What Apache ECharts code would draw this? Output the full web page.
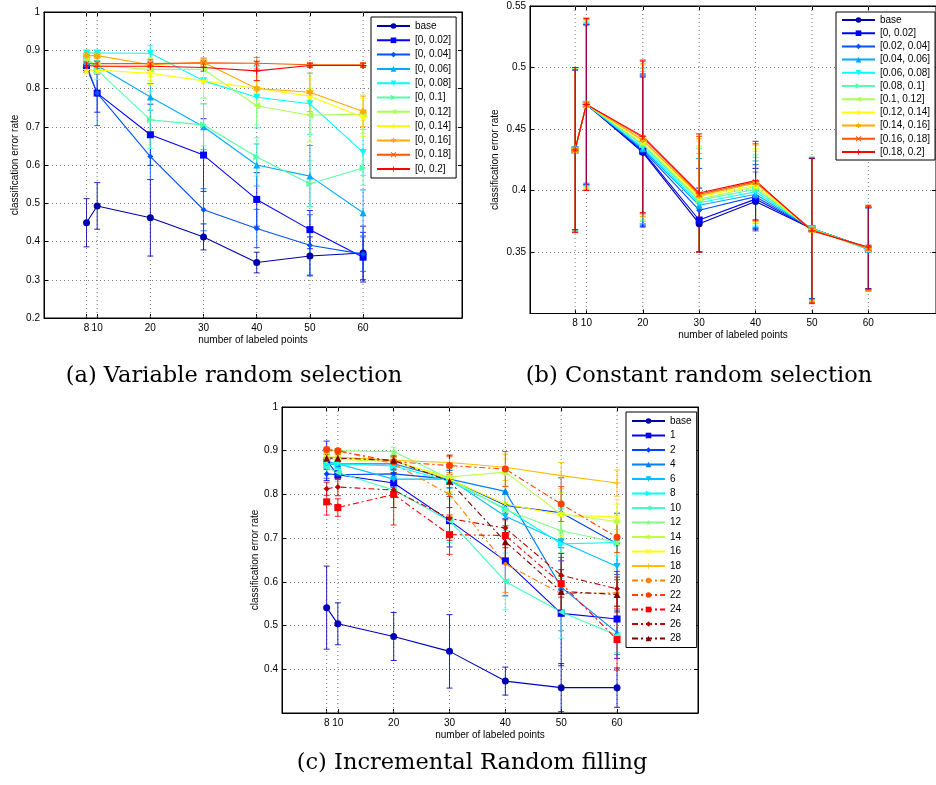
<!DOCTYPE html>
<html>
<head>
<meta charset="utf-8">
<script src="https://cdn.jsdelivr.net/npm/echarts@6/dist/echarts.min.js"></script>
<style>
  html, body { margin: 0; padding: 0; background: #fff; }
  #chart { width: 936px; height: 785px; }
</style>
</head>
<body>
<div id="chart"></div>
<script>
// Number of labeled points (shared x positions and tick labels)
const xPoints = [8, 10, 20, 30, 40, 50, 60];
const xTickValues = [8, 10, 20, 30, 40, 50, 60];

// (a) Variable random selection
const namesA = ['base', '[0, 0.02]', '[0, 0.04]', '[0, 0.06]', '[0, 0.08]', '[0, 0.1]',
  '[0, 0.12]', '[0, 0.14]', '[0, 0.16]', '[0, 0.18]', '[0, 0.2]'];
const meanA = [
  [0.449, 0.493, 0.462, 0.412, 0.345, 0.362, 0.370],
  [0.855, 0.788, 0.679, 0.626, 0.510, 0.431, 0.359],
  [0.860, 0.788, 0.622, 0.483, 0.434, 0.390, 0.367],
  [0.870, 0.860, 0.778, 0.700, 0.600, 0.571, 0.475],
  [0.893, 0.893, 0.892, 0.820, 0.777, 0.760, 0.633],
  [0.880, 0.848, 0.718, 0.705, 0.621, 0.551, 0.592],
  [0.875, 0.860, 0.850, 0.850, 0.755, 0.730, 0.733],
  [0.848, 0.848, 0.840, 0.820, 0.800, 0.780, 0.725],
  [0.886, 0.886, 0.862, 0.868, 0.800, 0.790, 0.740],
  [0.865, 0.865, 0.865, 0.867, 0.866, 0.862, 0.862],
  [0.860, 0.858, 0.858, 0.855, 0.846, 0.860, 0.860]
];
const errA = [
  [0.063, 0.061, 0.100, 0.034, 0.027, 0.050, 0.070],
  [0.012, 0.050, 0.080, 0.095, 0.070, 0.050, 0.065],
  [0.010, 0.085, 0.060, 0.055, 0.050, 0.080, 0.045],
  [0.010, 0.020, 0.035, 0.060, 0.055, 0.080, 0.060],
  [0.005, 0.005, 0.020, 0.045, 0.080, 0.080, 0.060],
  [0.010, 0.025, 0.075, 0.055, 0.050, 0.060, 0.045],
  [0.010, 0.010, 0.030, 0.030, 0.050, 0.070, 0.050],
  [0.008, 0.008, 0.030, 0.045, 0.030, 0.045, 0.050],
  [0.008, 0.008, 0.015, 0.012, 0.020, 0.050, 0.040],
  [0.005, 0.005, 0.010, 0.010, 0.015, 0.005, 0.005],
  [0.005, 0.005, 0.010, 0.010, 0.025, 0.005, 0.005]
];

// (b) Constant random selection
const namesB = ['base', '[0, 0.02]', '[0.02, 0.04]', '[0.04, 0.06]', '[0.06, 0.08]', '[0.08, 0.1]',
  '[0.1, 0.12]', '[0.12, 0.14]', '[0.14, 0.16]', '[0.16, 0.18]', '[0.18, 0.2]'];
const meanB = [
  [0.433, 0.470, 0.431, 0.373, 0.391, 0.369, 0.353],
  [0.433, 0.470, 0.432, 0.376, 0.393, 0.369, 0.353],
  [0.433, 0.470, 0.433, 0.384, 0.395, 0.369, 0.353],
  [0.433, 0.470, 0.434, 0.388, 0.397, 0.369, 0.352],
  [0.433, 0.470, 0.435, 0.390, 0.399, 0.369, 0.352],
  [0.433, 0.470, 0.437, 0.392, 0.401, 0.369, 0.353],
  [0.433, 0.470, 0.438, 0.393, 0.403, 0.368, 0.353],
  [0.433, 0.470, 0.440, 0.395, 0.404, 0.368, 0.353],
  [0.433, 0.470, 0.441, 0.396, 0.406, 0.368, 0.353],
  [0.433, 0.470, 0.443, 0.397, 0.407, 0.368, 0.353],
  [0.433, 0.470, 0.444, 0.398, 0.408, 0.367, 0.354]
];
const errB = [
  [0.065, 0.064, 0.061, 0.023, 0.024, 0.057, 0.033],
  [0.065, 0.065, 0.061, 0.026, 0.025, 0.057, 0.033],
  [0.066, 0.065, 0.061, 0.034, 0.026, 0.057, 0.033],
  [0.066, 0.066, 0.061, 0.038, 0.027, 0.057, 0.034],
  [0.066, 0.066, 0.062, 0.040, 0.028, 0.058, 0.034],
  [0.066, 0.067, 0.062, 0.042, 0.028, 0.058, 0.034],
  [0.066, 0.068, 0.062, 0.043, 0.029, 0.058, 0.034],
  [0.067, 0.069, 0.062, 0.045, 0.030, 0.058, 0.034],
  [0.067, 0.069, 0.062, 0.046, 0.031, 0.058, 0.034],
  [0.067, 0.070, 0.062, 0.047, 0.031, 0.059, 0.034],
  [0.067, 0.070, 0.062, 0.048, 0.032, 0.059, 0.034]
];

// (c) Incremental random filling
const namesC = ['base', '1', '2', '4', '6', '8', '10', '12', '14', '16', '18', '20', '22', '24', '26', '28'];
const meanC = [
  [0.541, 0.504, 0.475, 0.441, 0.373, 0.358, 0.358],
  [0.877, 0.845, 0.826, 0.740, 0.648, 0.528, 0.515],
  [0.847, 0.845, 0.847, 0.835, 0.775, 0.758, 0.687],
  [0.868, 0.870, 0.870, 0.835, 0.807, 0.588, 0.484],
  [0.875, 0.870, 0.835, 0.835, 0.750, 0.692, 0.635],
  [0.870, 0.870, 0.865, 0.830, 0.768, 0.687, 0.690],
  [0.862, 0.850, 0.810, 0.740, 0.601, 0.531, 0.478],
  [0.900, 0.900, 0.898, 0.836, 0.765, 0.717, 0.690],
  [0.880, 0.880, 0.875, 0.840, 0.851, 0.755, 0.738],
  [0.885, 0.885, 0.878, 0.835, 0.778, 0.753, 0.748],
  [0.885, 0.885, 0.878, 0.873, 0.862, 0.843, 0.826],
  [0.900, 0.900, 0.870, 0.800, 0.641, 0.573, 0.575],
  [0.903, 0.900, 0.875, 0.866, 0.858, 0.778, 0.702],
  [0.783, 0.770, 0.800, 0.708, 0.706, 0.596, 0.468],
  [0.813, 0.817, 0.810, 0.745, 0.723, 0.615, 0.584],
  [0.883, 0.883, 0.878, 0.830, 0.692, 0.578, 0.571]
];
const errC = [
  [0.095, 0.048, 0.055, 0.084, 0.032, 0.055, 0.045],
  [0.045, 0.010, 0.010, 0.060, 0.080, 0.120, 0.090],
  [0.010, 0.010, 0.010, 0.020, 0.030, 0.080, 0.070],
  [0.010, 0.010, 0.010, 0.020, 0.040, 0.100, 0.050],
  [0.010, 0.010, 0.020, 0.030, 0.050, 0.080, 0.060],
  [0.010, 0.010, 0.020, 0.030, 0.050, 0.080, 0.050],
  [0.015, 0.020, 0.040, 0.050, 0.065, 0.060, 0.040],
  [0.005, 0.005, 0.010, 0.030, 0.040, 0.050, 0.030],
  [0.008, 0.008, 0.010, 0.030, 0.030, 0.050, 0.040],
  [0.008, 0.008, 0.010, 0.030, 0.040, 0.050, 0.040],
  [0.008, 0.008, 0.010, 0.015, 0.030, 0.030, 0.030],
  [0.005, 0.005, 0.020, 0.050, 0.065, 0.040, 0.030],
  [0.005, 0.005, 0.010, 0.020, 0.040, 0.040, 0.035],
  [0.030, 0.020, 0.070, 0.045, 0.060, 0.060, 0.070],
  [0.015, 0.020, 0.040, 0.050, 0.045, 0.050, 0.040],
  [0.008, 0.008, 0.010, 0.060, 0.050, 0.050, 0.040]
];

// Jet colour ramps
const jet11 = ['#0000AA', '#0000FF', '#0055FF', '#00AAFF', '#00FFFF', '#55FFAA',
  '#AAFF55', '#FFFF00', '#FFAA00', '#FF5500', '#FF0000'];
const jet16 = ['#0000BF', '#0000FF', '#0040FF', '#0080FF', '#00BFFF', '#00FFFF', '#40FFBF', '#80FF80',
  '#BFFF40', '#FFFF00', '#FFBF00', '#FF8000', '#FF4000', '#FF0000', '#BF0000', '#800000'];

const markers11 = ['circle', 'square', 'diamond', 'tri-up', 'tri-down', 'tri-right', 'tri-left',
  'star', 'hexagram', 'cross', 'plus'];
const markers16 = ['circle', 'square', 'diamond', 'tri-up', 'tri-down', 'tri-right', 'tri-left',
  'star', 'hexagram', 'cross', 'plus', 'point', 'circle', 'square', 'diamond', 'tri-up'];

const FONT = 'Liberation Sans, Arial, sans-serif';
const CAPTION_FONT = '22.5px "DejaVu Serif", serif';

const SYMBOLS = {
  'circle':    { symbol: 'circle', rotate: 0, size: 7 },
  'square':    { symbol: 'rect', rotate: 0, size: 7 },
  'diamond':   { symbol: 'diamond', rotate: 0, size: 6 },
  'tri-up':    { symbol: 'triangle', rotate: 0, size: 7 },
  'tri-down':  { symbol: 'triangle', rotate: 180, size: 7 },
  'tri-right': { symbol: 'triangle', rotate: -90, size: 7 },
  'tri-left':  { symbol: 'triangle', rotate: 90, size: 7 },
  'star':      { symbol: 'path://M50,0L61.2,34.5L97.6,34.5L68.2,55.9L79.4,90.5L50,69.1L20.6,90.5L31.8,55.9L2.4,34.5L38.8,34.5Z', rotate: 0, size: 9 },
  'hexagram':  { symbol: 'path://M50,0L64.4,25L93.3,25L78.9,50L93.3,75L64.4,75L50,100L35.6,75L6.7,75L21.1,50L6.7,25L35.6,25Z', rotate: 0, size: 8 },
  'cross':     { symbol: 'path://M12,0L50,38L88,0L100,12L62,50L100,88L88,100L50,62L12,100L0,88L38,50L0,12Z', rotate: 0, size: 6 },
  'plus':      { symbol: 'path://M43,0H57V43H100V57H57V100H43V57H0V43H43Z', rotate: 0, size: 7 },
  'point':     { symbol: 'circle', rotate: 0, size: 4 }
};

// Panel frames: grid geometry and axis ranges
const panels = [
  { left: 44, top: 12, width: 418, height: 306, xMax: 78.6, yMin: 0.2, yMax: 1, yStep: 0.1, showMinY: true, nameGap: 24 },
  { left: 530, top: 6, width: 412, height: 307.5, xMax: 72, yMin: 0.3, yMax: 0.55, yStep: 0.05, showMinY: false, nameGap: 30 },
  { left: 282, top: 407, width: 416, height: 306, xMax: 74.5, yMin: 0.3, yMax: 1, yStep: 0.1, showMinY: false, nameGap: 20 }
];

const grids = [], xAxes = [], yAxes = [], series = [];

panels.forEach((p, i) => {
  grids.push({ left: p.left, top: p.top, width: p.width, height: p.height,
    show: true, borderColor: '#000', borderWidth: 1, backgroundColor: 'transparent' });
  const tick = { show: true, inside: true, length: 4, customValues: xTickValues, lineStyle: { color: '#000', width: 1 } };
  const line = { show: true, onZero: false, lineStyle: { color: '#000', width: 1 } };
  xAxes.push({
    type: 'value', gridIndex: i, position: 'bottom', min: 0, max: p.xMax,
    axisLine: line, axisTick: tick,
    axisLabel: { show: true, customValues: xTickValues, color: '#000', fontSize: 10, fontFamily: FONT, margin: 5 },
    splitLine: { show: false },
    name: 'number of labeled points', nameLocation: 'middle', nameGap: 17,
    nameTextStyle: { color: '#000', fontSize: 10, fontFamily: FONT, verticalAlign: 'top' }
  });
  xAxes.push({
    type: 'value', gridIndex: i, position: 'top', min: 0, max: p.xMax,
    axisLine: line, axisTick: tick, axisLabel: { show: false }, splitLine: { show: false }
  });
  const yTick = { show: true, inside: true, length: 4, lineStyle: { color: '#000', width: 1 } };
  yAxes.push({
    type: 'value', gridIndex: i, position: 'left', min: p.yMin, max: p.yMax, interval: p.yStep,
    axisLine: line, axisTick: yTick,
    axisLabel: { color: '#000', fontSize: 10, fontFamily: FONT, margin: 4, showMinLabel: p.showMinY, showMaxLabel: true },
    splitLine: { show: true, lineStyle: { color: '#777', width: 1, type: [1, 3] } },
    name: 'classification error rate', nameLocation: 'middle', nameGap: p.nameGap, nameRotate: 90,
    nameTextStyle: { color: '#000', fontSize: 10, fontFamily: FONT }
  });
  yAxes.push({
    type: 'value', gridIndex: i, position: 'right', min: p.yMin, max: p.yMax, interval: p.yStep,
    axisLine: line, axisTick: yTick, axisLabel: { show: false }, splitLine: { show: false }
  });
  // dotted vertical grid lines at the x ticks
  series.push({
    type: 'custom', xAxisIndex: 2 * i, yAxisIndex: 2 * i, silent: true, z: 1,
    data: xTickValues.map(v => [v, p.yMin]),
    encode: { x: 0, y: 1 },
    renderItem: (params, api) => {
      const x = api.coord([api.value(0), p.yMin])[0];
      const cs = params.coordSys;
      return { type: 'line', shape: { x1: x, y1: cs.y, x2: x, y2: cs.y + cs.height },
        style: { stroke: '#777', lineWidth: 1, lineDash: [1, 3] } };
    }
  });
});

function addPanel(panelIndex, names, means, errs, colors, markers, dashFrom, errOrder, errOpacity) {
  const xi = 2 * panelIndex, yi = 2 * panelIndex;
  names.forEach((name, k) => {
    const m = SYMBOLS[markers[k]];
    const dashed = dashFrom !== null && k >= dashFrom;
    series.push({
      type: 'line', name, xAxisIndex: xi, yAxisIndex: yi, z: 3,
      data: xPoints.map((x, j) => [x, means[k][j]]),
      symbol: m.symbol, symbolSize: m.size, symbolRotate: m.rotate, showSymbol: true,
      lineStyle: { color: colors[k], width: 1.1, type: dashed ? [6, 3, 2, 3] : 'solid' },
      itemStyle: { color: colors[k], borderWidth: 0 },
      emphasis: { disabled: true }
    });
  });
  errOrder.forEach(k => {
    const color = colors[k];
    const op = errOpacity[k];
    series.push({
      type: 'custom', name: names[k], xAxisIndex: xi, yAxisIndex: yi, z: 3, silent: true,
      data: xPoints.map((x, j) => [x, means[k][j], errs[k][j]]),
      encode: { x: 0, y: 1 },
      renderItem: (params, api) => {
        const x = api.value(0), mu = api.value(1), e = api.value(2);
        const lo = api.coord([x, mu - e]);
        const hi = api.coord([x, mu + e]);
        const w = 3;
        const st = { stroke: color, lineWidth: 1, opacity: op };
        return { type: 'group', children: [
          { type: 'line', shape: { x1: lo[0], y1: lo[1], x2: hi[0], y2: hi[1] }, style: st },
          { type: 'line', shape: { x1: lo[0] - w, y1: lo[1], x2: lo[0] + w, y2: lo[1] }, style: st },
          { type: 'line', shape: { x1: hi[0] - w, y1: hi[1], x2: hi[0] + w, y2: hi[1] }, style: st }
        ] };
      }
    });
  });
}

const orderA = namesA.map((_, k) => k);
addPanel(0, namesA, meanA, errA, jet11, markers11, null, orderA, namesA.map(() => 0.85));
// in (b) the baseline bars are laid last, half transparent, over the stacked coloured bars
const orderB = [1, 2, 3, 4, 5, 6, 7, 8, 9, 10, 0];
addPanel(1, namesB, meanB, errB, jet11, markers11, null, orderB, namesB.map((_, k) => k === 0 ? 0.5 : 1));
const orderC = namesC.map((_, k) => k);
addPanel(2, namesC, meanC, errC, jet16, markers16, 11, orderC, namesC.map(() => 0.85));

const legendBase = {
  orient: 'vertical', selectedMode: false,
  backgroundColor: '#fff', borderColor: '#000', borderWidth: 1,
  itemWidth: 33, itemHeight: 7,
  textStyle: { color: '#000', fontSize: 10, fontFamily: FONT }
};

const option = {
  animation: false,
  grid: grids,
  xAxis: xAxes,
  yAxis: yAxes,
  legend: [
    Object.assign({}, legendBase, { left: 371, top: 17, padding: [4, 5, 4, 5], itemGap: 4.3, data: namesA }),
    Object.assign({}, legendBase, { left: 836, top: 12, padding: [3, 5, 3, 5], itemGap: 3.2, data: namesB }),
    Object.assign({}, legendBase, { left: 626, top: 412, padding: [4, 5, 4, 5], itemGap: 4.5, data: namesC })
  ],
  series: series,
  graphic: [
    { type: 'text', x: 234, y: 376, style: { text: '(a) Variable random selection', font: CAPTION_FONT, fill: '#000', align: 'center', verticalAlign: 'middle', textAlign: 'center', textVerticalAlign: 'middle' } },
    { type: 'text', x: 699, y: 376, style: { text: '(b) Constant random selection', font: CAPTION_FONT, fill: '#000', align: 'center', verticalAlign: 'middle', textAlign: 'center', textVerticalAlign: 'middle' } },
    { type: 'text', x: 472, y: 763, style: { text: '(c) Incremental Random filling', font: CAPTION_FONT, fill: '#000', align: 'center', verticalAlign: 'middle', textAlign: 'center', textVerticalAlign: 'middle' } }
  ]
};

const chart = echarts.init(document.getElementById('chart'), null, { renderer: 'canvas' });
chart.setOption(option);
</script>
</body>
</html>
